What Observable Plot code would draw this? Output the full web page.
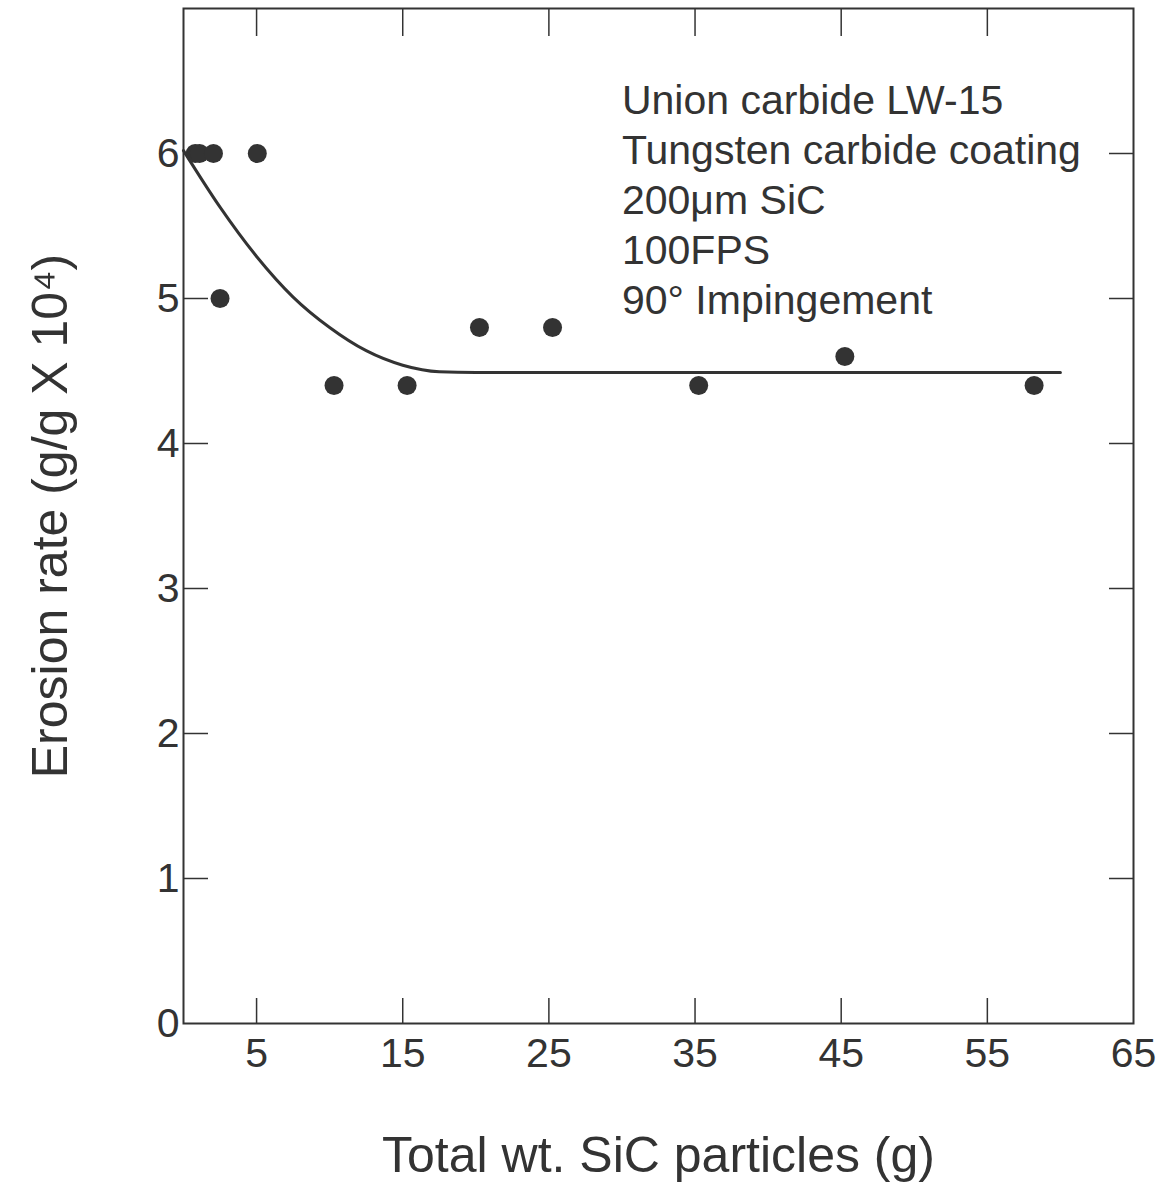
<!DOCTYPE html>
<html><head><meta charset="utf-8">
<script src="https://cdn.jsdelivr.net/npm/d3@7"></script>
<script src="https://cdn.jsdelivr.net/npm/@observablehq/plot@0.6"></script>
<style>body{margin:0;background:#fff}</style>
</head><body><div id="chart"></div>
<script>
const pointX = [0.8, 1.1, 2.05, 2.5, 5.05, 10.3, 15.3, 20.25, 25.25, 35.25, 45.25, 58.2];
const pointY = [6.0, 6.0, 6.0, 5.0, 6.0, 4.4, 4.4, 4.8, 4.8, 4.4, 4.6, 4.4];
const curveX = [0, 2.5, 5, 7.5, 10, 12.5, 15, 17.5, 20, 60];
const curveY = [6.02, 5.63, 5.29, 5.01, 4.80, 4.64, 4.54, 4.495, 4.49, 4.49];
const xTickValues = [5, 15, 25, 35, 45, 55, 65];
const xInnerTicks = [5, 15, 25, 35, 45, 55];
const yTickValues = [0, 1, 2, 3, 4, 5, 6];
const yInnerTicks = [1, 2, 3, 4, 5, 6];
const noteLines = ["Union carbide LW-15", "Tungsten carbide coating", "200\u03bcm SiC", "100FPS", "90\u00b0 Impingement"];
const noteX = 30, noteY = 6.52;
const xLabel = "Total wt. SiC particles (g)";
const yLabel = "Erosion rate (g/g X 10\u2074)";

const ink = "#333";
const points = pointX.map((x, i) => ({x, y: pointY[i]}));
const curve = curveX.map((x, i) => ({x, y: curveY[i]}));

const chart = Plot.plot({
  width: 1169,
  height: 1186,
  marginLeft: 183,
  marginRight: 36,
  marginTop: 8,
  marginBottom: 163,
  style: {fontFamily: "'Liberation Sans', Arial, sans-serif", color: ink, background: "#fff"},
  x: {domain: [0, 65]},
  y: {domain: [0, 7]},
  marks: [
    Plot.frame({stroke: ink, strokeWidth: 2}),
    Plot.axisX({anchor: "bottom", ticks: xTickValues, tickSize: 0, tickPadding: 14, fontSize: 41, label: null, tickFormat: d3.format("d")}),
    Plot.axisX({anchor: "bottom", ticks: xInnerTicks, tickSize: -25, tickFormat: () => "", label: null, stroke: ink, strokeWidth: 1.5}),
    Plot.axisX({anchor: "top", ticks: xInnerTicks, tickSize: -27, tickFormat: () => "", label: null, stroke: ink, strokeWidth: 1.5}),
    Plot.axisY({anchor: "left", ticks: yTickValues, tickSize: 0, tickPadding: 4, fontSize: 41, label: null, tickFormat: d3.format("d")}),
    Plot.axisY({anchor: "left", ticks: yInnerTicks, tickSize: -25, tickFormat: () => "", label: null, stroke: ink, strokeWidth: 1.5}),
    Plot.axisY({anchor: "right", ticks: yInnerTicks, tickSize: -25, tickFormat: () => "", label: null, stroke: ink, strokeWidth: 1.5}),
    Plot.line(curve, {x: "x", y: "y", curve: "monotone-x", stroke: ink, strokeWidth: 3}),
    Plot.dot(points, {x: "x", y: "y", r: 9.5, fill: ink, stroke: "none"}),
    Plot.text([noteLines.join("\n")], {x: noteX, y: noteY, text: d => d, textAnchor: "start", lineAnchor: "top", lineHeight: 1.22, fontSize: 41, fill: ink}),
    Plot.text([xLabel], {frameAnchor: "bottom", dy: 132, text: d => d, textAnchor: "middle", lineAnchor: "middle", fontSize: 50, fill: ink}),
    Plot.text([yLabel], {frameAnchor: "left", dx: -133, rotate: -90, text: d => d, textAnchor: "middle", lineAnchor: "middle", fontSize: 50, fill: ink})
  ]
});
document.getElementById("chart").appendChild(chart);
</script>
</body></html>
